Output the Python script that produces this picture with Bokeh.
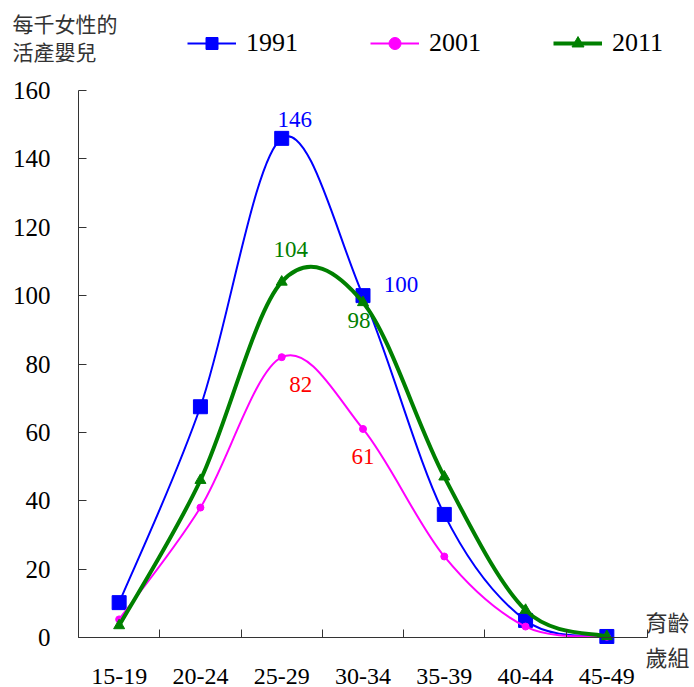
import numpy as np
from bokeh.plotting import figure
from bokeh.models import Range1d, FixedTicker, Legend, LegendItem, Label, ColumnDataSource
from bokeh.core.properties import value
from bokeh.embed import file_html
from bokeh.resources import INLINE

# ---- data ----
age_groups = ["15-19", "20-24", "25-29", "30-34", "35-39", "40-44", "45-49"]
births_1991 = [10.2, 67.5, 146, 100, 36, 5, 0.3]
births_2001 = [5.3, 38, 82, 61, 23.7, 3.2, 0.2]
births_2011 = [3.5, 46, 104, 98, 47, 8, 0.3]
series_names = ["1991", "2001", "2011"]
y_ticks = [0, 20, 40, 60, 80, 100, 120, 140, 160]
labelled_idx = [2, 3]
y_title = "每千女性的\n活產嬰兒"
x_title = "育齡\n歲組"

SERIF = "Liberation Serif"
CJK = "Noto Sans CJK TC"

# ---- layout (pixels) ----
W, H = 694, 687
PLOT_L, PLOT_R, PLOT_T, PLOT_B = 78, 647, 90, 637   # plotting area inside the canvas

n = len(age_groups)
y_max = y_ticks[-1]
xpos = np.arange(n) + 0.5
all_series = [births_1991, births_2001, births_2011]

# frame covers the whole canvas; axes are pinned at x=0 / y=0 and bounded
px_x = (PLOT_R - PLOT_L) / n
px_y = (PLOT_B - PLOT_T) / y_max
x_range = Range1d(-PLOT_L / px_x, n + (W - PLOT_R) / px_x)
y_range = Range1d(-(H - PLOT_B) / px_y, y_max + PLOT_T / px_y)

styles = [
    dict(color="#0000FF", width=2, marker="square", size=14, lsize=15, label_color="#0000FF",
         offsets=[(13, -19), (38, -11)]),
    dict(color="#FF00FF", width=2, marker="circle", size=7, lsize=8, label_color="#FF0000",
         offsets=[(19, 27), (0, 28)]),
    dict(color="#008000", width=4, marker="triangle", size=11, lsize=11, label_color="#008000",
         offsets=[(9, -32), (-4, 18)]),
]

p = figure(width=W, height=H, x_range=x_range, y_range=y_range,
           output_backend="svg", toolbar_location=None, min_border=0,
           min_border_left=0, min_border_right=0, min_border_top=0, min_border_bottom=0)
p.outline_line_color = None
p.xgrid.visible = False
p.ygrid.visible = False

xa = p.xaxis[0]
xa.fixed_location = 0
xa.bounds = (0, n)
xa.ticker = FixedTicker(ticks=list(xpos), minor_ticks=list(range(0, n + 1)))
xa.major_label_overrides = {float(x): g for x, g in zip(xpos, age_groups)}
xa.major_tick_in = 0
xa.major_tick_out = 0
xa.minor_tick_in = 8
xa.minor_tick_out = 0
xa.major_label_standoff = 31
xa.major_label_text_font = SERIF
xa.major_label_text_font_size = "24px"
xa.major_label_text_color = "black"
xa.axis_line_color = "#333333"
xa.minor_tick_line_color = "#333333"

ya = p.yaxis[0]
ya.fixed_location = 0
ya.bounds = (0, y_max)
ya.ticker = FixedTicker(ticks=y_ticks, minor_ticks=[])
ya.major_tick_in = 8
ya.major_tick_out = 0
ya.major_label_standoff = 28
ya.major_label_text_font = SERIF
ya.major_label_text_font_size = "25px"
ya.major_label_text_color = "black"
ya.axis_line_color = "#333333"
ya.major_tick_line_color = "#333333"


def bezier_source(ys):
    ys = np.asarray(ys, dtype=float)
    rows = dict(x0=[], y0=[], x1=[], y1=[], cx0=[], cy0=[], cx1=[], cy1=[])
    for i in range(n - 1):
        i0, i3 = max(i - 1, 0), min(i + 2, n - 1)
        rows["x0"].append(xpos[i]); rows["y0"].append(ys[i])
        rows["x1"].append(xpos[i + 1]); rows["y1"].append(ys[i + 1])
        rows["cx0"].append(xpos[i] + (xpos[i + 1] - xpos[i0]) / 6)
        rows["cy0"].append(ys[i] + (ys[i + 1] - ys[i0]) / 6)
        rows["cx1"].append(xpos[i + 1] - (xpos[i3] - xpos[i]) / 6)
        rows["cy1"].append(ys[i + 1] - (ys[i3] - ys[i]) / 6)
    return ColumnDataSource(rows)


items = []
for name, ys, st in zip(series_names, all_series, styles):
    p.bezier(x0="x0", y0="y0", x1="x1", y1="y1", cx0="cx0", cy0="cy0", cx1="cx1", cy1="cy1",
             source=bezier_source(ys), line_color=st["color"], line_width=st["width"])
    lg = p.line(x=list(xpos), y=ys, line_color=st["color"], line_width=st["width"], visible=False)
    lm = p.scatter(x=list(xpos), y=ys, marker=st["marker"], size=st["lsize"],
                   fill_color=st["color"], line_color=st["color"], visible=False)
    p.scatter(x=list(xpos), y=ys, marker=st["marker"], size=st["size"],
              fill_color=st["color"], line_color=st["color"])
    items.append(LegendItem(label=name, renderers=[lg, lm]))
    for k, idx in enumerate(labelled_idx):
        dx, dy = st["offsets"][k]
        p.text(x=[xpos[idx]], y=[ys[idx]], text=[f"{ys[idx]:.0f}"], x_offset=dx, y_offset=dy,
               text_align="center", text_baseline="middle", text_color=st["label_color"],
               text_font=value(SERIF), text_font_size="23px")

legend = Legend(items=items, orientation="horizontal", location=(187, H - 58),
                padding=0, margin=0, border_line_color=None, background_fill_alpha=0,
                inactive_fill_alpha=0,
                glyph_width=49, glyph_height=30, label_height=30, label_standoff=10, spacing=72,
                label_text_font=SERIF, label_text_font_size="26px", label_text_color="black")
p.add_layout(legend, "center")

p.add_layout(Label(x=12, y=H - 7, x_units="screen", y_units="screen", text=y_title,
                   text_font=CJK, text_font_size="21px", text_color="#333333",
                   text_baseline="top", text_align="left", text_line_height=0.95))
p.add_layout(Label(x=645, y=H - 604, x_units="screen", y_units="screen", text=x_title,
                   text_font=CJK, text_font_size="22px", text_color="#333333",
                   text_baseline="top", text_align="left", text_line_height=1.1))

open("out.html", "w").write(file_html(p, INLINE))
